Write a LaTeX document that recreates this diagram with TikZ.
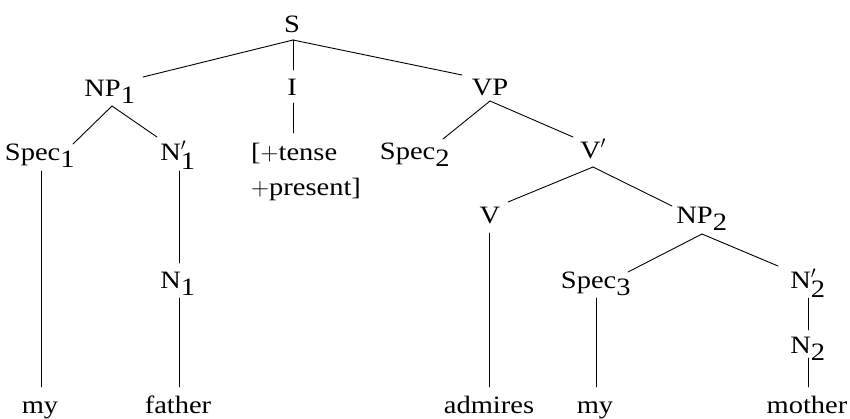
\documentclass[tikz,border=0pt]{standalone}
\usepackage{fontspec}
\setmainfont{Liberation Serif}[FakeStretch=1.14]
\usetikzlibrary{calc}
\newcommand{\sbs}[1]{$_{\textrm{#1}}$}
\newcommand{\prs}[1]{$'_{\textrm{#1}}$}
\tikzset{
  lab/.style={anchor=base, inner sep=0pt, font=\fontsize{25}{35}\selectfont},
  edge/.style={line width=0.9pt, line cap=round}
}
\begin{document}
\begin{tikzpicture}[x=1pt,y=-1pt]
\useasboundingbox (0,0) rectangle (850,418);
% nodes
\node[lab] (S) at (292,32) {S};
\node[lab] (NP1) at (110,96) {NP\sbs{1}};
\node[lab] (I) at (292,95) {I};
\node[lab] (VP) at (490,95) {VP};
\node[lab] (Spec1) at (40,160) {Spec\sbs{1}};
\node[lab] (Nb1) at (178,160) {N\prs{1}};
\node[lab, anchor=base west] (tense) at (251,160) {\begin{tabular}[t]{@{}l@{}}[$+$tense\\$+$present]\end{tabular}};
\node[lab] (Spec2) at (415,159) {Spec\sbs{2}};
\node[lab] (Vb) at (593,158) {V$'$};
\node[lab] (V) at (490,223) {V};
\node[lab] (NP2) at (702,223) {NP\sbs{2}};
\node[lab] (N1) at (178,288) {N\sbs{1}};
\node[lab] (Spec3) at (596,288) {Spec\sbs{3}};
\node[lab] (Nb2) at (808,288) {N\prs{2}};
\node[lab] (N2) at (808,353) {N\sbs{2}};
\node[lab] (my1) at (40,413) {my};
\node[lab] (father) at (178,413) {father};
\node[lab] (admires) at (489,413) {admires};
\node[lab] (my2) at (595,413) {my};
\node[lab] (mother) at (807,413) {mother};
% edges
\draw[edge] ($(S.base)+(1,8)$) -- ($(NP1.base)+(33,-19)$);
\draw[edge] ($(S.base)+(1,8)$) -- ($(I.base)+(1,-25)$);
\draw[edge] ($(S.base)+(1,8)$) -- ($(VP.base)+(-28,-20)$);
\draw[edge] ($(NP1.base)+(2,10)$) -- ($(Spec1.base)+(33,-16)$);
\draw[edge] ($(NP1.base)+(2,10)$) -- ($(Nb1.base)+(-21,-23)$);
\draw[edge] ($(I.base)+(1,8)$) -- ($(tense.base west)+(42,-27)$);
\draw[edge] ($(Spec1.base)+(1,11)$) -- ($(my1.base)+(1,-26)$);
\draw[edge] ($(Nb1.base)+(1,11)$) -- ($(N1.base)+(1,-25)$);
\draw[edge] ($(N1.base)+(1,10)$) -- ($(father.base)+(1,-26)$);
\draw[edge] ($(VP.base)+(0,6)$) -- ($(Spec2.base)+(28,-20)$);
\draw[edge] ($(VP.base)+(0,6)$) -- ($(Vb.base)+(-20,-21)$);
\draw[edge] ($(Vb.base)+(0,9)$) -- ($(V.base)+(18,-21)$);
\draw[edge] ($(Vb.base)+(0,9)$) -- ($(NP2.base)+(-30,-17)$);
\draw[edge] ($(V.base)+(-1,10)$) -- ($(admires.base)+(0,-26)$);
\draw[edge] ($(NP2.base)+(0,11)$) -- ($(Spec3.base)+(32,-16)$);
\draw[edge] ($(NP2.base)+(0,11)$) -- ($(Nb2.base)+(-30,-22)$);
\draw[edge] ($(Spec3.base)+(0,10)$) -- ($(my2.base)+(1,-26)$);
\draw[edge] ($(Nb2.base)+(0,10)$) -- ($(N2.base)+(0,-23)$);
\draw[edge] ($(N2.base)+(0,5)$) -- ($(mother.base)+(1,-26)$);
\end{tikzpicture}
\end{document}
